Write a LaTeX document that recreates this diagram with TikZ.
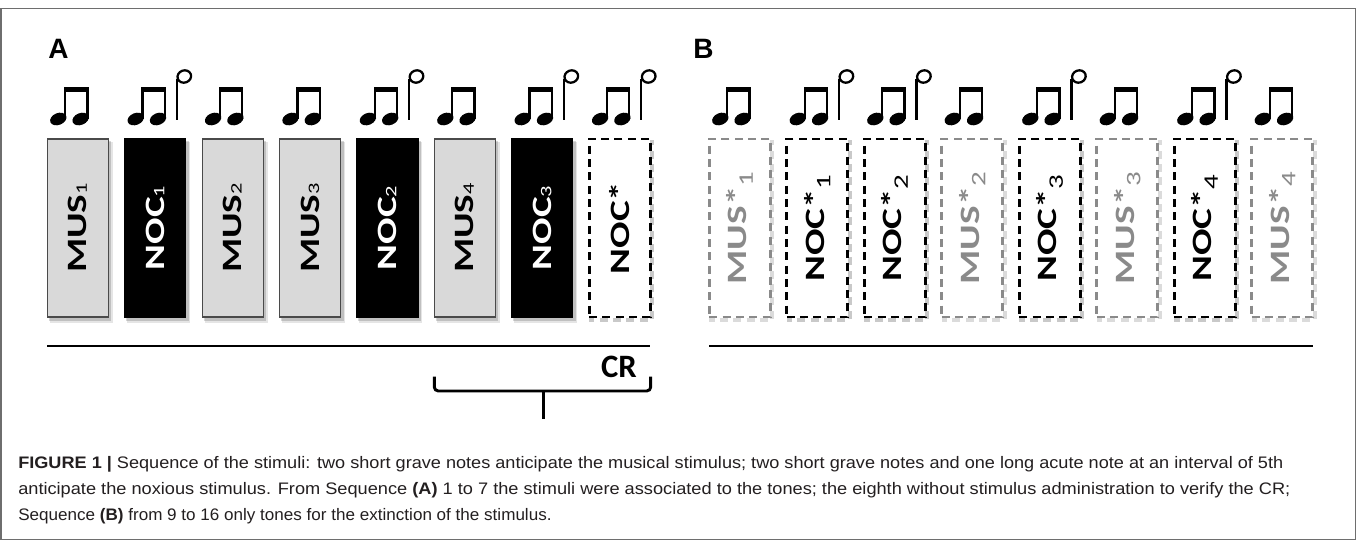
\documentclass[tikz,border=0pt]{standalone}
\usepackage{fontspec}
\setmainfont{Liberation Sans}
\newfontfamily\lblfont{Carlito}
\newfontfamily\capfont{Liberation Sans}
\definecolor{lgray}{HTML}{D9D9D9}
\definecolor{egray}{HTML}{4A4A4A}
\definecolor{dgray}{HTML}{8A8A8A}
\definecolor{captxt}{HTML}{231F20}
\definecolor{framec}{HTML}{6E6E6E}
\newcommand\subA[1]{{\mdseries\fontsize{12pt}{12pt}\selectfont #1}}
\newcommand\subB[1]{\raisebox{-0.22em}{\mdseries\fontsize{15.5pt}{15.5pt}\selectfont #1}}
\newcommand\lblmus[1]{\scalebox{1.4}[1]{\bfseries MUS\subA{#1}}}
\newcommand\lblnoc[1]{\scalebox{1.4}[1]{\bfseries NOC\subA{#1}}}
\newcommand\lblstar[1]{\scalebox{1.4}[1]{\bfseries NOC*}}
\newcommand\lblmusS[1]{\scalebox{1.4}[1]{\bfseries MUS*\subB{#1}}}
\newcommand\lblnocS[1]{\scalebox{1.4}[1]{\bfseries NOC*\subB{#1}}}
% eighth-note pair, #1 = centre x of first head
\newcommand\eighthpair[1]{%
  \fill[shift={(#1,119)},rotate=22] (0,0) ellipse [x radius=8.5,y radius=5.9];
  \fill[shift={(#1+22.3,119)},rotate=22] (0,0) ellipse [x radius=8.5,y radius=5.9];
  \fill (#1+5.7,119) rectangle (#1+8,87);
  \fill (#1+28,119) rectangle (#1+30.3,87);
  \fill (#1+5.7,86.5) rectangle (#1+30.3,92.2);
}
\newcommand\halfnote[1]{%
  \fill (#1+40,79) rectangle (#1+42.3,120);
  \draw[line width=1.7pt,shift={(#1+48.6,76.5)},rotate=20] (0,0) ellipse [x radius=6.9,y radius=6.1];
}
\newcommand\halfmus[1]{}
\newcommand\halfmusS[1]{}
\newcommand\halfnoc[1]{\halfnote{#1}}
\newcommand\halfstar[1]{\halfnote{#1}}
\newcommand\halfnocS[1]{\halfnote{#1}}
% shadows
\newcommand\solidshadow[1]{%
  \fill[black,opacity=0.16] (#1-29,141) rectangle (#1+33.5,320.5);
  \fill[black,opacity=0.10] (#1-28,142) rectangle (#1+35,322.5);
}
\newcommand\dashshadow[2]{%
  \draw[#2,opacity=0.35,line width=3pt,dash pattern=on 6pt off 4pt] (#1-28.5,141.5) rectangle (#1+32.5,319.5);
}
\newcommand\shadowmus[1]{\solidshadow{#1}}
\newcommand\shadownoc[1]{\solidshadow{#1}}
\newcommand\shadowstar[1]{\dashshadow{#1}{black!60}}
\newcommand\shadownocS[1]{\dashshadow{#1}{black!60}}
\newcommand\shadowmusS[1]{\dashshadow{#1}{black!40}}
\tikzset{
  boxbase/.style={minimum width=45.75pt,minimum height=133.5pt,inner sep=0pt,outer sep=0pt},
  musbox/.style={boxbase,fill=lgray,draw=egray,line width=0.9pt},
  nocbox/.style={boxbase,fill=black,draw=black,line width=0.9pt},
  starbox/.style={boxbase,fill=white,draw=black,line width=2.2pt,dash pattern=on 6pt off 4pt},
  nocSbox/.style={starbox},
  musSbox/.style={boxbase,fill=white,draw=dgray,line width=2pt,dash pattern=on 6pt off 4pt},
  lbltxt/.style={rotate=90,inner sep=0pt,font=\lblfont\fontsize{21pt}{21pt}\selectfont},
  mustxt/.style={lbltxt,text=black},
  noctxt/.style={lbltxt,text=white},
  startxt/.style={lbltxt,text=black},
  nocStxt/.style={lbltxt,text=black},
  musStxt/.style={lbltxt,text=dgray},
  panel/.style={anchor=base west,inner sep=0pt,font=\bfseries\fontsize{21pt}{21pt}\selectfont},
  rule/.style={line width=1.5pt},
  capline/.style={anchor=base west,inner sep=0pt,text=captxt},
}
\newcommand\capset{\capfont\fontsize{12.5pt}{15pt}\selectfont}
\begin{document}
\begin{tikzpicture}[x=0.75pt,y=-0.75pt]
\useasboundingbox (0,0) rectangle (1357,540);
\fill[white] (0,0) rectangle (1357,540);
\draw[framec,line width=1.1pt] (1,8.5) rectangle (1355.5,539.5);

% panel letters
\node[panel] (pA) at (48,58.3) {A};
\node[panel] (pB) at (693,58.3) {B};

% panel A
\foreach \i/\kind/\n in {1/mus/1,2/noc/1,3/mus/2,4/mus/3,5/noc/2,6/mus/4,7/noc/3,8/star/}{
  \pgfmathsetmacro\cx{77.8+77.4*(\i-1)}
  \csname shadow\kind\endcsname{\cx}
  \node[\kind box] (a\i) at (\cx,228) {};
  \node[\kind txt] (ta\i) at (\cx,228) {\csname lbl\kind\endcsname{\n}};
  \eighthpair{\cx-19.5}
  \csname half\kind\endcsname{\cx-19.5}
}
% panel B
\foreach \i/\kind/\n in {1/musS/1,2/nocS/1,3/nocS/2,4/musS/2,5/nocS/3,6/musS/3,7/nocS/4,8/musS/4}{
  \pgfmathsetmacro\cx{739.8+77.5*(\i-1)}
  \csname shadow\kind\endcsname{\cx}
  \node[\kind box] (b\i) at (\cx,228) {};
  \node[\kind txt] (tb\i) at (\cx,228) {\csname lbl\kind\endcsname{\n}};
  \eighthpair{\cx-19.5}
  \csname half\kind\endcsname{\cx-19.5}
}

% time lines
\coordinate (lAs) at (47,346);
\coordinate (lAe) at (650,346);
\coordinate (lBs) at (709,346);
\coordinate (lBe) at (1313,346);
\draw[rule] (lAs) -- (lAe);
\draw[rule] (lBs) -- (lBe);

% brace and CR
\coordinate (brL) at (434.3,376.7);
\coordinate (brR) at (650.7,376.7);
\coordinate (brM) at (543.3,391);
\coordinate (brT) at (543.3,419);
\draw[line width=2.2pt,rounded corners=3pt] (brL) -- (brL |- brM) -- (brR |- brM) -- (brR);
\draw[line width=2.2pt] (brM) -- (brT);
\node[inner sep=0pt,font=\lblfont\bfseries\fontsize{24.5pt}{25pt}\selectfont] (cr) at (619,367) {CR};

% caption
\node[capline] (cap1) at (18,468) {\resizebox{948.75pt}{\height}{\capset\textbf{FIGURE 1 |} Sequence of the stimuli: two short grave notes anticipate the musical stimulus; two short grave notes and one long acute note at an interval of 5th}};
\node[capline] (cap2) at (18,494) {\resizebox{954pt}{\height}{\capset anticipate the noxious stimulus. From Sequence \textbf{(A)} 1 to 7 the stimuli were associated to the tones; the eighth without stimulus administration to verify the CR;}};
\node[capline] (cap3) at (18,520) {\resizebox{400pt}{\height}{\capset Sequence \textbf{(B)} from 9 to 16 only tones for the extinction of the stimulus.}};
\end{tikzpicture}
\end{document}
